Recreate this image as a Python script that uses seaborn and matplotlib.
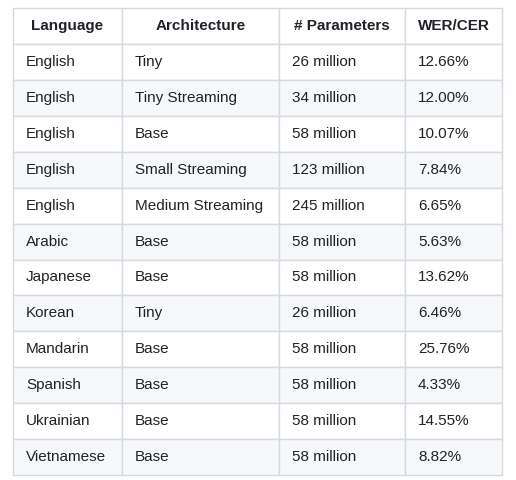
import matplotlib
matplotlib.use("Agg")
import matplotlib.pyplot as plt
import seaborn as sns
from matplotlib.patches import Rectangle

headers = ["Language", "Architecture", "# Parameters", "WER/CER"]
languages = ["English", "English", "English", "English", "English", "Arabic",
             "Japanese", "Korean", "Mandarin", "Spanish", "Ukrainian", "Vietnamese"]
architectures = ["Tiny", "Tiny Streaming", "Base", "Small Streaming", "Medium Streaming",
                 "Base", "Base", "Tiny", "Base", "Base", "Base", "Base"]
parameters = ["26 million", "34 million", "58 million", "123 million", "245 million",
              "58 million", "58 million", "26 million", "58 million", "58 million",
              "58 million", "58 million"]
wer_cer = ["12.66%", "12.00%", "10.07%", "7.84%", "6.65%", "5.63%", "13.62%",
           "6.46%", "25.76%", "4.33%", "14.55%", "8.82%"]

sns.set_theme(style="white")
plt.rcParams["font.family"] = ["Liberation Sans", "DejaVu Sans"]

fig = plt.figure(figsize=(5.16, 4.8), dpi=100)
ax = fig.add_axes([0, 0, 1, 1])
ax.set_xlim(0, 516)
ax.set_ylim(480, 0)
ax.axis("off")

col_edges = [13, 122, 279, 405, 502]
top, header_h = 8, 36
row_h = (475 - (top + header_h)) / len(languages)
border = "#d6dae0"
text_c = "#1f2328"

rows = list(zip(languages, architectures, parameters, wer_cer))

# header
for j, h in enumerate(headers):
    x0, x1 = col_edges[j], col_edges[j + 1]
    ax.add_patch(Rectangle((x0, top), x1 - x0, header_h, facecolor="white",
                           edgecolor=border, lw=1))
    ax.text((x0 + x1) / 2, top + header_h / 2, h, ha="center", va="center",
            fontsize=11, fontweight="bold", color=text_c)

# body
for i, row in enumerate(rows):
    y0 = top + header_h + i * row_h
    fc = "#f6f8fa" if i % 2 == 1 else "white"
    for j, val in enumerate(row):
        x0, x1 = col_edges[j], col_edges[j + 1]
        ax.add_patch(Rectangle((x0, y0), x1 - x0, row_h, facecolor=fc,
                               edgecolor=border, lw=1))
        ax.text(x0 + 13, y0 + row_h / 2, val, ha="left", va="center",
                fontsize=11, color=text_c)

fig.savefig("out.png", dpi=100, facecolor="white")
